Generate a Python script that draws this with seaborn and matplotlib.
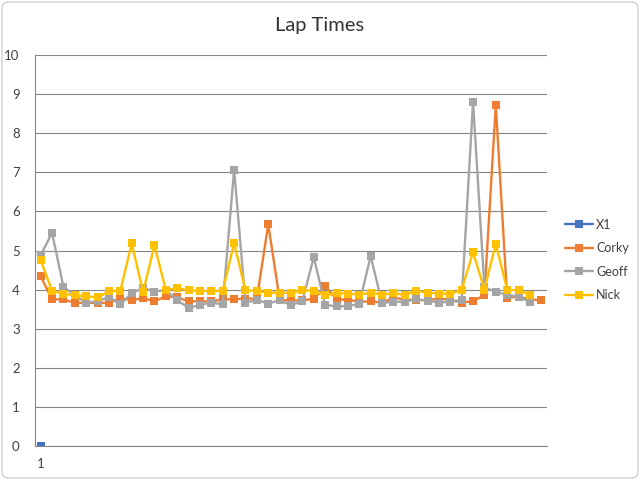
import numpy as np
import pandas as pd
import seaborn as sns
import matplotlib.pyplot as plt
from matplotlib.patches import FancyBboxPatch

# lap times
x1 = [0.0]
corky = [4.34, 3.75, 3.75, 3.66, 3.66, 3.66, 3.66, 3.78, 3.73, 3.78,
         3.70, 3.83, 3.80, 3.70, 3.70, 3.70, 3.75, 3.75, 3.77, 3.77,
         5.67, 3.75, 3.71, 3.74, 3.75, 4.09, 3.75, 3.74, 3.69, 3.70,
         3.67, 3.79, 3.75, 3.73, 3.73, 3.77, 3.74, 3.67, 3.70, 3.86,
         8.72, 3.79, 3.82, 3.75, 3.73]
geoff = [4.88, 5.45, 4.07, 3.85, 3.67, 3.70, 3.81, 3.62, 3.91, 4.04,
         3.95, 3.99, 3.73, 3.53, 3.61, 3.67, 3.62, 7.07, 3.66, 3.74,
         3.64, 3.73, 3.60, 3.71, 4.83, 3.61, 3.57, 3.58, 3.63, 4.86,
         3.66, 3.69, 3.69, 3.75, 3.72, 3.67, 3.69, 3.73, 8.80, 4.06,
         3.94, 3.87, 3.81, 3.69]
nick = [4.75, 3.97, 3.89, 3.86, 3.83, 3.80, 3.96, 3.97, 5.18, 3.94,
        5.13, 3.99, 4.04, 3.98, 3.97, 3.96, 3.97, 5.19, 3.98, 3.97,
        3.92, 3.92, 3.92, 3.98, 3.97, 3.85, 3.91, 3.90, 3.87, 3.92,
        3.87, 3.91, 3.86, 3.97, 3.92, 3.90, 3.89, 3.99, 4.96, 4.00,
        5.17, 4.00, 3.98, 3.86]

series = {"X1": x1, "Corky": corky, "Geoff": geoff, "Nick": nick}
colors = {"X1": "#4472C4", "Corky": "#ED7D31", "Geoff": "#A5A5A5", "Nick": "#FFC000"}

rows = []
for name, vals in series.items():
    for i, v in enumerate(vals):
        rows.append({"lap": i + 1, "time": v, "driver": name})
df = pd.DataFrame(rows)

sns.set_style("white")
plt.rcParams["font.family"] = ["Lato", "DejaVu Sans"]

fig = plt.figure(figsize=(6.4, 4.8), dpi=100)
ax = fig.add_axes([35 / 640, 1 - 446 / 480, 512 / 640, 391 / 480])

sns.lineplot(
    data=df, x="lap", y="time", hue="driver", style="driver",
    palette=colors, markers={k: "s" for k in series}, dashes=False,
    markersize=5.5, markeredgewidth=0, linewidth=1.7, ax=ax, legend=True,
)

ax.set_xlim(0.5, 45.5)
ax.set_ylim(0, 10)
ax.set_yticks(np.arange(0, 11, 1))
ax.set_yticks(np.arange(0, 10.01, 0.2), minor=True)
ticks = np.arange(0.5, 45.6, 0.5)
ax.set_xticks(ticks)
ax.set_xticklabels(["1" if t == 1.0 else "" for t in ticks])
ax.grid(axis="y", which="major", color="#858585", linewidth=0.8)
ax.set_axisbelow(True)

for side in ["top", "right"]:
    ax.spines[side].set_visible(False)
for side in ["left", "bottom"]:
    ax.spines[side].set_color("#858585")
    ax.spines[side].set_linewidth(0.8)

ax.tick_params(axis="both", which="both", direction="inout", colors="#858585",
               labelcolor="#404040", labelsize=9.5)
ax.tick_params(axis="y", which="major", length=6, pad=8)
ax.tick_params(axis="y", which="minor", length=5)
ax.tick_params(axis="x", which="major", length=6, pad=6)
ax.set_xlabel("")
ax.set_ylabel("")

ax.legend(loc="center left", bbox_to_anchor=(565 / 640, 1 - 260 / 480),
          bbox_transform=fig.transFigure, frameon=False, borderpad=0,
          borderaxespad=0, fontsize=9, handlelength=2.2, labelspacing=0.92,
          handletextpad=0.3, labelcolor="#404040")

fig.text(0.5, 1 - 25 / 480, "Lap Times", ha="center", va="center",
         fontsize=14.5, color="#333333")

border = FancyBboxPatch((2 / 640, 2 / 480), 636 / 640, 476 / 480,
                        boxstyle="round,pad=0,rounding_size=0.012",
                        transform=fig.transFigure, fill=False,
                        edgecolor="#d0d0d0", linewidth=1)
fig.patches.append(border)

fig.savefig("out.png", dpi=100)
